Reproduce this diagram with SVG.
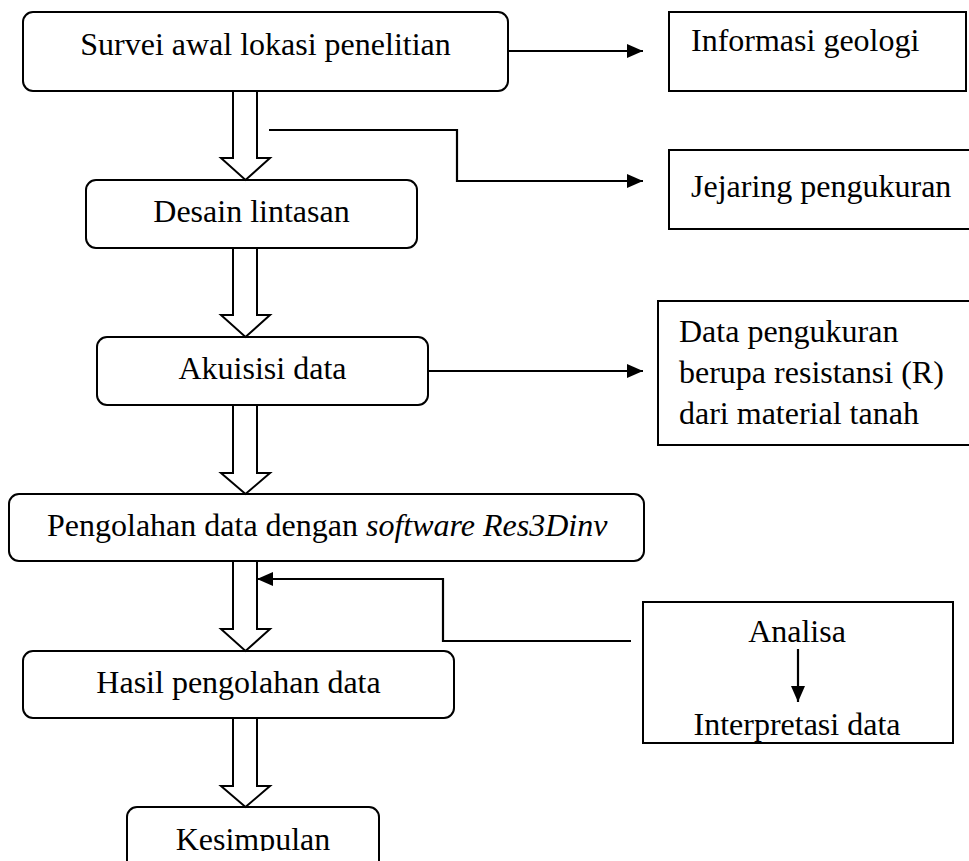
<svg xmlns="http://www.w3.org/2000/svg" width="969" height="861" viewBox="0 0 969 861">
<style>
.box{fill:#fff;stroke:#000;stroke-width:2}
.t{font-family:"Liberation Serif","Times New Roman",serif;font-size:32px;fill:#000}
.c{text-anchor:middle}
.conn{fill:none;stroke:#000;stroke-width:2.2}
.blk{fill:#fff;stroke:#000;stroke-width:2;stroke-linejoin:miter}
</style>
<defs>
<marker id="ah" markerUnits="userSpaceOnUse" markerWidth="18" markerHeight="16" refX="16" refY="8" orient="auto">
<path d="M0,1 L16,8 L0,15 z" fill="#000"/>
</marker>
<clipPath id="clipK"><rect x="0" y="0" width="969" height="851"/></clipPath>
</defs>
<rect width="969" height="861" fill="#fff"/>

<g id="survei">
<rect class="box" x="23" y="12" width="485" height="79" rx="10"/>
<text class="t c" x="265.5" y="55">Survei awal lokasi penelitian</text>
</g>
<g id="informasi">
<rect class="box" x="669" y="12" width="297" height="79"/>
<text class="t" x="691" y="51">Informasi geologi</text>
</g>
<g id="jejaring">
<rect class="box" x="669" y="150" width="320" height="79"/>
<text class="t" x="691" y="197">Jejaring pengukuran</text>
</g>
<g id="desain">
<rect class="box" x="86" y="180" width="331" height="68" rx="10"/>
<text class="t c" x="251.5" y="222">Desain lintasan</text>
</g>
<g id="akuisisi">
<rect class="box" x="97" y="337" width="331" height="68" rx="10"/>
<text class="t c" x="262.5" y="379">Akuisisi data</text>
</g>
<g id="data">
<rect class="box" x="658" y="301" width="330" height="144"/>
<text class="t" x="679" y="342">Data pengukuran</text>
<text class="t" x="679" y="383">berupa resistansi (R)</text>
<text class="t" x="679" y="424">dari material tanah</text>
</g>
<g id="pengolahan">
<rect class="box" x="9" y="494" width="635" height="67" rx="10"/>
<text class="t" x="47" y="536">Pengolahan data dengan <tspan font-style="italic">software Res3Dinv</tspan></text>
</g>
<g id="hasil">
<rect class="box" x="23" y="651" width="431" height="67" rx="10"/>
<text class="t c" x="238.5" y="693">Hasil pengolahan data</text>
</g>
<g id="analisa">
<rect class="box" x="643" y="602" width="310" height="141"/>
<text class="t c" x="797" y="642">Analisa</text>
<text class="t c" x="797" y="735">Interpretasi data</text>
</g>
<g id="kesimpulan">
<rect class="box" x="127" y="807" width="252" height="70" rx="10"/>
<text class="t c" x="253" y="850" clip-path="url(#clipK)">Kesimpulan</text>
</g>

<g id="connectors">
<path class="blk" d="M233,92 V158 H221 L245.5,180 L270,158 H257 V92"/>
<path class="blk" d="M233,249 V315 H221 L245.5,337 L270,315 H257 V249"/>
<path class="blk" d="M233,406 V473 H221 L245.5,494 L270,473 H257 V406"/>
<path class="blk" d="M233,562 V629 H221 L245.5,651 L270,629 H257 V562"/>
<path class="blk" d="M233,719 V786 H221 L245.5,807 L270,786 H257 V719"/>
<path class="conn" d="M508,51 H643" marker-end="url(#ah)"/>
<path class="conn" d="M269,130 H457 V181 H643" marker-end="url(#ah)"/>
<path class="conn" d="M428,371 H643" marker-end="url(#ah)"/>
<path class="conn" d="M631,641 H443 V579 H257" marker-end="url(#ah)"/>
<path class="conn" d="M798,649 V702" marker-end="url(#ah)"/>
</g>
</svg>
